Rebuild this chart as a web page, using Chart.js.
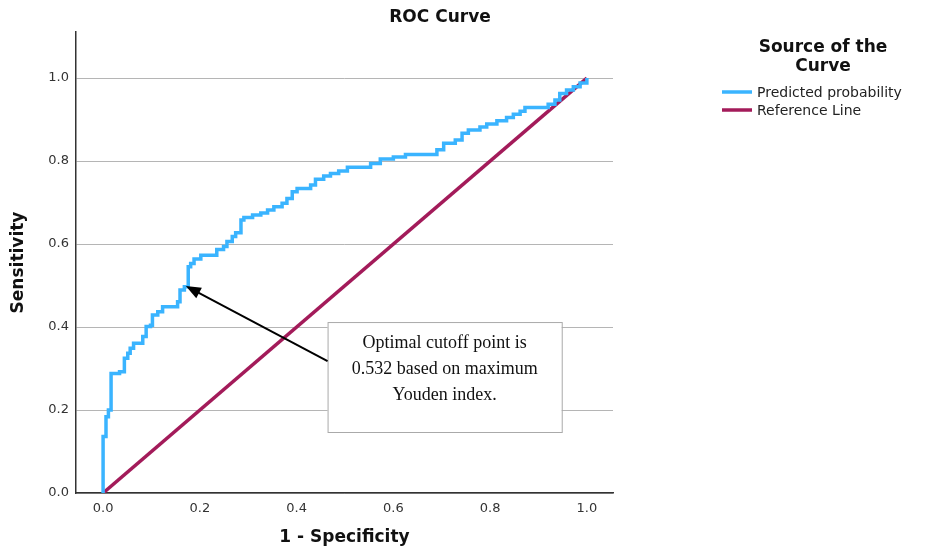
<!DOCTYPE HTML>
<html>
  <head>
    <meta charset="UTF-8"/>
    <title>ROC Curve</title>
    <script src="https://cdn.jsdelivr.net/npm/chart.js@4.4.1/dist/chart.umd.min.js"></script>
    <style>
     body { margin: 0; background: #fff; }
     #wrap { width: 933px; height: 549px; }
    </style>
  </head>
  <body>
    <div id="wrap">
      <canvas id="roc" width="933" height="549"></canvas>
    </div>

    <script>
     // 1 - specificity / sensitivity
     var fpr = [0, 0, 0.006, 0.011, 0.0165, 0.034, 0.044, 0.051, 0.056, 0.063,
                0.082, 0.089, 0.098, 0.102, 0.113, 0.123, 0.154, 0.159, 0.168, 0.176,
                0.181, 0.188, 0.202, 0.235, 0.249, 0.256, 0.267, 0.274, 0.285, 0.291,
                0.309, 0.326, 0.340, 0.353, 0.370, 0.380, 0.391, 0.401, 0.429, 0.439,
                0.456, 0.470, 0.487, 0.505, 0.553, 0.573, 0.600, 0.625, 0.690, 0.704,
                0.728, 0.742, 0.755, 0.779, 0.793, 0.814, 0.834, 0.848, 0.862, 0.872,
                0.920, 0.934, 0.944, 0.958, 0.972, 0.986, 1.0];
     var tpr = [0, 0.136, 0.184, 0.200, 0.288, 0.292, 0.325, 0.337, 0.349, 0.361,
                0.377, 0.401, 0.404, 0.429, 0.437, 0.449, 0.461, 0.489, 0.497, 0.545,
                0.553, 0.564, 0.573, 0.587, 0.594, 0.606, 0.618, 0.627, 0.658, 0.664,
                0.670, 0.675, 0.682, 0.690, 0.698, 0.710, 0.726, 0.734, 0.742, 0.756,
                0.764, 0.770, 0.776, 0.785, 0.794, 0.805, 0.810, 0.816, 0.827, 0.843,
                0.851, 0.867, 0.875, 0.882, 0.889, 0.897, 0.905, 0.913, 0.920, 0.929,
                0.937, 0.947, 0.963, 0.971, 0.979, 0.988, 1.0];
     var refX = [0, 1];
     var refY = [0, 1];
     var xTicks = [0, 0.2, 0.4, 0.6, 0.8, 1.0];
     var yTicks = [0, 0.2, 0.4, 0.6, 0.8, 1.0];
     var seriesNames = ["Predicted probability", "Reference Line"];
     var legendTitle = ["Source of the", "Curve"];
     var noteLines = ["Optimal cutoff point is", "0.532 based on maximum", "Youden index."];
     // box corners and arrow in data units
     var noteBox = [0.464, 0.412, 0.948, 0.147];
     var arrowFrom = [0.464, 0.318];
     var arrowTo = [0.171, 0.499];

     var BLUE = "#3AB4FF";
     var RED = "#A31B5A";
     var SANS = "'DejaVu Sans', sans-serif";

     function pts(xs, ys) {
         return xs.map((v, i) => ({x: v, y: ys[i]}));
     }

     var extras = {
         id: "extras",
         afterDraw: function(chart) {
             var ctx = chart.ctx;
             var sx = chart.scales.x, sy = chart.scales.y;
             ctx.save();

             // title
             ctx.fillStyle = "#111";
             ctx.font = "bold 17px " + SANS;
             ctx.textAlign = "center";
             ctx.textBaseline = "middle";
             ctx.fillText("ROC Curve", 440, 18);

             // legend
             ctx.fillText(legendTitle[0], 823, 48);
             ctx.fillText(legendTitle[1], 823, 67);
             ctx.font = "14px " + SANS;
             ctx.textAlign = "left";
             [BLUE, RED].forEach(function(c, i) {
                 var yy = 92 + i * 18;
                 ctx.strokeStyle = c;
                 ctx.lineWidth = 3.5;
                 ctx.beginPath();
                 ctx.moveTo(722, yy);
                 ctx.lineTo(752, yy);
                 ctx.stroke();
                 ctx.fillStyle = "#222";
                 ctx.fillText(seriesNames[i], 757, yy + 1);
             });

             // annotation box
             var bx = sx.getPixelForValue(noteBox[0]);
             var by = sy.getPixelForValue(noteBox[1]);
             var bw = sx.getPixelForValue(noteBox[2]) - bx;
             var bh = sy.getPixelForValue(noteBox[3]) - by;
             ctx.fillStyle = "#fff";
             ctx.fillRect(bx, by, bw, bh);
             ctx.strokeStyle = "#aaa";
             ctx.lineWidth = 1;
             ctx.strokeRect(bx + 0.5, by + 0.5, bw, bh);
             ctx.fillStyle = "#111";
             ctx.font = "18px 'Liberation Serif', serif";
             ctx.textAlign = "center";
             noteLines.forEach(function(t, i) {
                 ctx.fillText(t, bx + bw / 2, by + 21 + i * 26);
             });

             // arrow
             var x0 = sx.getPixelForValue(arrowFrom[0]), y0 = sy.getPixelForValue(arrowFrom[1]);
             var x1 = sx.getPixelForValue(arrowTo[0]), y1 = sy.getPixelForValue(arrowTo[1]);
             var ang = Math.atan2(y1 - y0, x1 - x0);
             var hl = 15, hw = 6;
             ctx.strokeStyle = "#000";
             ctx.lineWidth = 2;
             ctx.beginPath();
             ctx.moveTo(x0, y0);
             ctx.lineTo(x1 - Math.cos(ang) * hl * 0.8, y1 - Math.sin(ang) * hl * 0.8);
             ctx.stroke();
             ctx.fillStyle = "#000";
             ctx.beginPath();
             ctx.moveTo(x1, y1);
             ctx.lineTo(x1 - Math.cos(ang) * hl - Math.sin(ang) * hw, y1 - Math.sin(ang) * hl + Math.cos(ang) * hw);
             ctx.lineTo(x1 - Math.cos(ang) * hl + Math.sin(ang) * hw, y1 - Math.sin(ang) * hl - Math.cos(ang) * hw);
             ctx.closePath();
             ctx.fill();

             ctx.restore();
         }
     };

     new Chart("roc", {
         type: "line",
         data: {
             datasets: [{
                 label: seriesNames[0],
                 data: pts(fpr, tpr),
                 borderColor: BLUE,
                 borderWidth: 3.5,
                 stepped: "before",
                 pointRadius: 0,
                 fill: false
             }, {
                 label: seriesNames[1],
                 data: pts(refX, refY),
                 borderColor: RED,
                 borderWidth: 3.5,
                 pointRadius: 0,
                 fill: false
             }]
         },
         options: {
             responsive: false,
             animation: false,
             events: [],
             layout: { padding: { left: 0, top: 32, right: 320, bottom: 0 } },
             plugins: {
                 legend: { display: false },
                 tooltip: { enabled: false }
             },
             scales: {
                 x: {
                     type: "linear",
                     min: -0.056,
                     max: 1.054,
                     afterBuildTicks: s => { s.ticks = xTicks.map(v => ({value: v})); },
                     afterFit: s => { s.height = 56; },
                     grid: { drawOnChartArea: false, drawTicks: false },
                     border: { color: "#333", width: 1.5 },
                     ticks: {
                         padding: 8,
                         color: "#333",
                         font: { family: SANS, size: 13 },
                         callback: v => v.toFixed(1)
                     },
                     title: {
                         display: true,
                         text: "1 - Specificity",
                         color: "#111",
                         font: { family: SANS, size: 17, weight: "bold" },
                         padding: { top: 0, bottom: 1 }
                     }
                 },
                 y: {
                     type: "linear",
                     min: 0,
                     max: 1.111,
                     afterBuildTicks: s => { s.ticks = yTicks.map(v => ({value: v})); },
                     afterFit: s => { s.width = 76; },
                     grid: { color: "#b5b5b5", lineWidth: 1, drawTicks: false },
                     border: { color: "#333", width: 1.5 },
                     ticks: {
                         padding: 7,
                         color: "#333",
                         font: { family: SANS, size: 13 },
                         callback: v => v.toFixed(1)
                     },
                     title: {
                         display: true,
                         text: "Sensitivity",
                         color: "#111",
                         font: { family: SANS, size: 17, weight: "bold" },
                         padding: { top: 8, bottom: 0 }
                     }
                 }
             }
         },
         plugins: [extras]
     });
    </script>
  </body>
</html>
